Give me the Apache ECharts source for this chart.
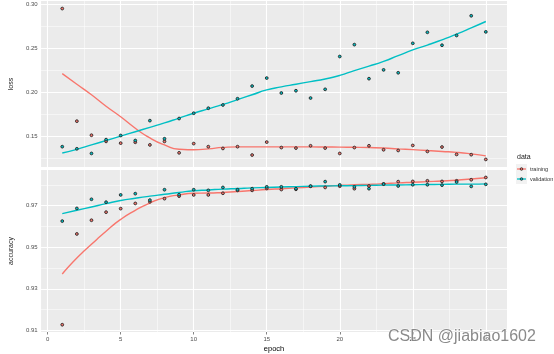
<!DOCTYPE html>
<html>
<head>
<meta charset="utf-8">
<script src="https://cdn.jsdelivr.net/npm/echarts@6/dist/echarts.min.js"></script>
<style>
  html, body { margin: 0; padding: 0; background: #fff; }
  #main { width: 554px; height: 354px; }
</style>
</head>
<body>
<div id="main"></div>
<script>
var epochs = [1,2,3,4,5,6,7,8,9,10,11,12,13,14,15,16,17,18,19,20,21,22,23,24,25,26,27,28,29,30];

// points
var lossTrain = [0.295,0.167,0.151,0.144,0.142,0.143,0.140,0.144,0.131,0.1415,0.138,0.136,0.138,0.1285,0.1432,0.137,0.1364,0.139,0.1364,0.1303,0.137,0.139,0.1345,0.1337,0.1394,0.1326,0.1376,0.1292,0.1289,0.1235];
var lossVal = [0.138,0.1356,0.1303,0.146,0.1507,0.145,0.1676,0.147,0.170,0.176,0.1817,0.1854,0.1925,0.2069,0.216,0.199,0.2016,0.1933,0.2032,0.2405,0.254,0.2153,0.2253,0.222,0.2555,0.268,0.2533,0.2644,0.2868,0.2685];
var accTrain = [0.9127,0.9564,0.963,0.9669,0.9686,0.9711,0.9719,0.9734,0.9746,0.9752,0.9752,0.976,0.9774,0.9774,0.9783,0.9778,0.9779,0.9794,0.9788,0.9794,0.9782,0.9795,0.9805,0.9816,0.9817,0.982,0.9817,0.982,0.9825,0.9836];
var accVal = [0.9626,0.9687,0.9731,0.9717,0.9752,0.9758,0.9727,0.9777,0.9753,0.9777,0.9774,0.9788,0.9777,0.9782,0.9791,0.9791,0.9782,0.9794,0.9816,0.98,0.9791,0.9782,0.9804,0.9795,0.9801,0.9801,0.9799,0.9814,0.9793,0.9803];

// smoothed curves
var lossTrainSmooth = [0.221,0.209,0.197,0.184,0.172,0.159,0.148,0.140,0.135,0.1345,0.1355,0.1372,0.1378,0.1378,0.1378,0.1378,0.1378,0.1378,0.1376,0.1375,0.1373,0.137,0.1365,0.1355,0.1346,0.1336,0.1326,0.1315,0.1298,0.1276];
var lossValSmooth = [0.1308,0.135,0.140,0.145,0.150,0.155,0.160,0.165,0.1705,0.176,0.181,0.186,0.1915,0.197,0.2025,0.206,0.209,0.212,0.215,0.219,0.2245,0.2295,0.235,0.2415,0.248,0.2535,0.2595,0.266,0.273,0.2803];
var accTrainSmooth = [0.9371,0.9448,0.9514,0.9577,0.9634,0.9678,0.9713,0.9739,0.9752,0.976,0.9761,0.9764,0.9768,0.9773,0.9778,0.9782,0.9786,0.979,0.9794,0.9798,0.9801,0.9803,0.9806,0.981,0.9813,0.9816,0.9819,0.9823,0.9829,0.9835];
var accValSmooth = [0.9662,0.9678,0.9694,0.971,0.9725,0.9736,0.9746,0.9755,0.9764,0.9772,0.9776,0.978,0.9783,0.9786,0.9788,0.979,0.9792,0.9794,0.9795,0.9796,0.9797,0.9798,0.9799,0.98,0.9801,0.9802,0.9803,0.9804,0.9804,0.9805];

// ticks and grid lines
var xTicks = [0,5,10,15,20,25,30];
var xMinor = [2.5,7.5,12.5,17.5,22.5,27.5];
var lossTicks = [0.15,0.20,0.25,0.30];
var lossMinor = [0.125,0.175,0.225,0.275];
var accTicks = [0.91,0.93,0.95,0.97];
var accMinor = [0.92,0.94,0.96,0.98];

var X_RANGE = [-0.45, 31.45];
var LOSS_RANGE = [0.1149, 0.3036];
var ACC_RANGE = [0.9092, 0.9872];

var RED = '#F8766D', CYAN = '#00BFC4';
var FONT = 'Liberation Sans, Arial, sans-serif';

function pairs(ys) {
  return epochs.map(function (e, i) { return [e, ys[i]]; });
}

// white panel grid lines, drawn in data space
function gridLines(idx, xs, ys, yRange, width) {
  var d = [];
  xs.forEach(function (v) { d.push({ coords: [[v, yRange[0]], [v, yRange[1]]] }); });
  ys.forEach(function (v) { d.push({ coords: [[X_RANGE[0], v], [X_RANGE[1], v]] }); });
  return {
    type: 'lines', coordinateSystem: 'cartesian2d', xAxisIndex: idx, yAxisIndex: idx,
    silent: true, z: 2, data: d,
    lineStyle: { color: '#ffffff', width: width, opacity: 1 }
  };
}

function smooth(name, idx, ys, color) {
  return {
    name: name, type: 'line', xAxisIndex: idx, yAxisIndex: idx,
    data: pairs(ys), smooth: 0.6, showSymbol: false, z: 3,
    lineStyle: { color: color, width: 1.4 }, itemStyle: { color: color }
  };
}

function points(name, idx, ys, color) {
  return {
    name: name, type: 'scatter', xAxisIndex: idx, yAxisIndex: idx,
    data: pairs(ys), symbolSize: 2.8, z: 4,
    itemStyle: { color: color, borderColor: '#262626', borderWidth: 0.9, opacity: 1 }
  };
}

var labelStyle = { fontSize: 6, color: '#4D4D4D', fontFamily: FONT };
var tickStyle = { length: 2.5, lineStyle: { color: '#333333', width: 0.6 } };

// legend keys (ggplot style)
function legendKey(y, label, color) {
  return [
    { type: 'rect', shape: { x: 516, y: y - 5, width: 11, height: 10 }, style: { fill: '#F2F2F2' } },
    { type: 'line', shape: { x1: 517, y1: y, x2: 526, y2: y }, style: { stroke: color, lineWidth: 1.3 } },
    { type: 'circle', shape: { cx: 521.5, cy: y, r: 1.3 }, style: { fill: color, stroke: '#262626', lineWidth: 0.8 } },
    { type: 'text', x: 530, y: y, style: { text: label, fontSize: 5.5, fill: '#333', fontFamily: FONT, verticalAlign: 'middle' } }
  ];
}

var chart = echarts.init(document.getElementById('main'));
chart.setOption({
  animation: false,
  backgroundColor: '#ffffff',
  grid: [
    { left: 26, top: 1, width: 481, height: 166, show: true, backgroundColor: '#EBEBEB', borderWidth: 0 },
    { left: 26, top: 170, width: 481, height: 166, show: true, backgroundColor: '#EBEBEB', borderWidth: 0 }
  ],
  xAxis: [
    { type: 'value', gridIndex: 0, min: X_RANGE[0], max: X_RANGE[1],
      axisLine: { show: false }, axisTick: { show: false }, axisLabel: { show: false }, splitLine: { show: false } },
    { type: 'value', gridIndex: 1, min: X_RANGE[0], max: X_RANGE[1],
      axisLine: { show: false },
      axisTick: Object.assign({ show: true, customValues: xTicks }, tickStyle),
      axisLabel: Object.assign({ customValues: xTicks, margin: 4 }, labelStyle),
      splitLine: { show: false },
      name: 'epoch', nameLocation: 'middle', nameGap: 13,
      nameTextStyle: { fontSize: 7.5, color: '#000', fontFamily: FONT } }
  ],
  yAxis: [
    { type: 'value', gridIndex: 0, min: LOSS_RANGE[0], max: LOSS_RANGE[1],
      axisLine: { show: false },
      axisTick: Object.assign({ show: true, customValues: lossTicks }, tickStyle),
      axisLabel: Object.assign({ customValues: lossTicks, margin: 3.5,
        formatter: function (v) { return v.toFixed(2); } }, labelStyle),
      splitLine: { show: false },
      name: 'loss', nameLocation: 'middle', nameRotate: 90, nameGap: 18,
      nameTextStyle: { fontSize: 7, color: '#1A1A1A', fontFamily: FONT } },
    { type: 'value', gridIndex: 1, min: ACC_RANGE[0], max: ACC_RANGE[1],
      axisLine: { show: false },
      axisTick: Object.assign({ show: true, customValues: accTicks }, tickStyle),
      axisLabel: Object.assign({ customValues: accTicks, margin: 3.5,
        formatter: function (v) { return v.toFixed(2); } }, labelStyle),
      splitLine: { show: false },
      name: 'accuracy', nameLocation: 'middle', nameRotate: 90, nameGap: 18,
      nameTextStyle: { fontSize: 7, color: '#1A1A1A', fontFamily: FONT } }
  ],
  graphic: [
    { type: 'text', x: 517, y: 154, style: { text: 'data', fontSize: 7, fill: '#1A1A1A', fontFamily: FONT } }
  ].concat(legendKey(169, 'training', RED), legendKey(179, 'validation', CYAN), [
    { type: 'text', x: 388, y: 329, z: 100,
      style: { text: 'CSDN @jiabiao1602', fontSize: 16, fill: '#8a8a8a', fontFamily: FONT,
        stroke: 'rgba(255,255,255,0.8)', lineWidth: 1.2 } }
  ]),
  series: [
    gridLines(0, xMinor, lossMinor, LOSS_RANGE, 0.5),
    gridLines(0, xTicks, lossTicks, LOSS_RANGE, 1.1),
    gridLines(1, xMinor, accMinor, ACC_RANGE, 0.5),
    gridLines(1, xTicks, accTicks, ACC_RANGE, 1.1),
    smooth('training', 0, lossTrainSmooth, RED),
    smooth('validation', 0, lossValSmooth, CYAN),
    smooth('training', 1, accTrainSmooth, RED),
    smooth('validation', 1, accValSmooth, CYAN),
    points('training', 0, lossTrain, RED),
    points('validation', 0, lossVal, CYAN),
    points('training', 1, accTrain, RED),
    points('validation', 1, accVal, CYAN)
  ]
});
</script>
</body>
</html>
